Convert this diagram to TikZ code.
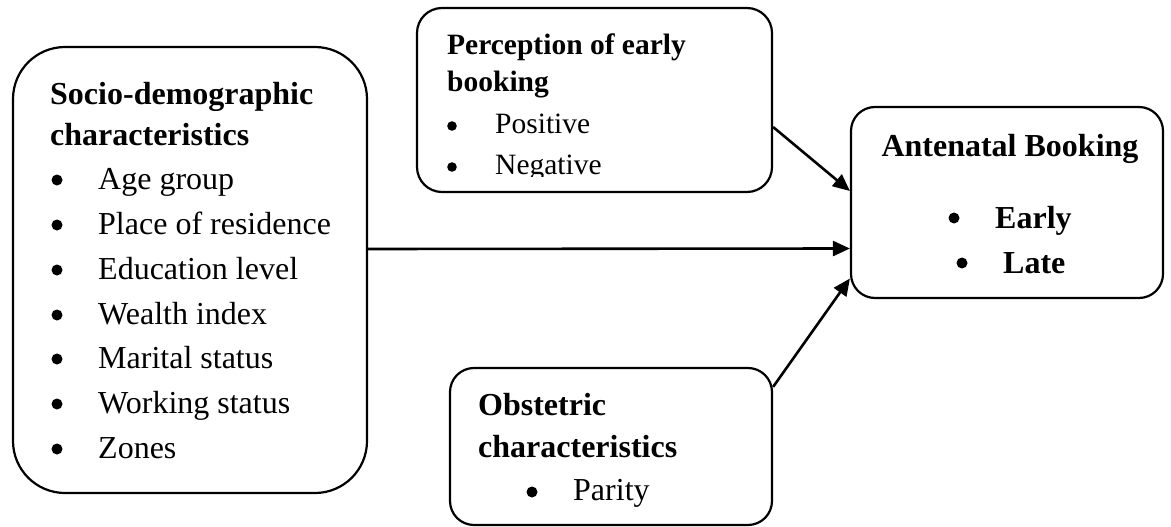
\documentclass[tikz,border=0pt]{standalone}
\usepackage{fontspec}
\setmainfont{Liberation Serif}
\usetikzlibrary{arrows.meta,calc}
\begin{document}
\begin{tikzpicture}[x=1pt,y=-1pt,
  box/.style={draw=black,line width=2.2pt,rounded corners=#1,fill=white,inner sep=0pt},
  big/.style={font=\fontsize{32}{38}\selectfont,inner sep=0pt,anchor=base west},
  mid/.style={font=\fontsize{29.5}{35}\selectfont,inner sep=0pt,anchor=base west},
  conn/.style={line width=2.6pt,-{Triangle[length=17pt,width=15pt]}},
  blt/.style={fill=black}]
\useasboundingbox (0,0) rectangle (1171,527);
% boxes
\node[box=52pt,minimum width=354pt,minimum height=446pt] (L) at (190,270) {};
\node[box=25pt,minimum width=355pt,minimum height=184pt] (P) at (594.5,100) {};
\node[box=24pt,minimum width=322pt,minimum height=157pt] (O) at (611,446.5) {};
\node[box=24pt,minimum width=312pt,minimum height=191pt] (A) at (1007,202.5) {};
% left box text
\node[big,font=\fontsize{32}{38}\selectfont\bfseries] (l1) at (50,104) {Socio-demographic};
\node[big,font=\fontsize{32}{38}\selectfont\bfseries] (l2) at (50,146) {characteristics};
\node[big] (l3) at (98,189) {Age group};
\node[big] (l4) at (98,234) {Place of residence};
\node[big] (l5) at (98,279) {Education level};
\node[big] (l6) at (98,324) {Wealth index};
\node[big] (l7) at (98,368) {Marital status};
\node[big] (l8) at (98,413) {Working status};
\node[big] (l9) at (98,458) {Zones};
\foreach \yy in {189,234,279,324,368,413,458}
  \fill[blt] (57,\yy-9) circle (5.5);
% top box text
\node[mid,font=\fontsize{29.5}{35}\selectfont\bfseries] (p1) at (447,55) {Perception of early};
\node[mid,font=\fontsize{29.5}{35}\selectfont\bfseries] (p2) at (447,92) {booking};
\node[mid] (p3) at (495,133) {Positive};
\begin{scope}
\clip (417,8) rectangle (772,176);
\node[mid] (p4) at (495,174) {Negative};
\end{scope}
\fill[blt] (452,126) circle (4.8);
\fill[blt] (452,167) circle (4.8);
% bottom box text
\node[big,font=\fontsize{32}{38}\selectfont\bfseries] (o1) at (478,415) {Obstetric};
\node[big,font=\fontsize{32}{38}\selectfont\bfseries] (o2) at (478,457) {characteristics};
\node[big] (o3) at (573,500) {Parity};
\fill[blt] (532,492) circle (5.5);
% right box text
\node[big,font=\fontsize{32}{38}\selectfont\bfseries,anchor=base] (a1) at (1010,157) {Antenatal Booking};
\node[big,font=\fontsize{32}{38}\selectfont\bfseries] (a2) at (995,228) {Early};
\node[big,font=\fontsize{32}{38}\selectfont\bfseries] (a3) at (1003,273) {Late};
\fill[blt] (954,218) circle (5.5);
\fill[blt] (962,263) circle (5.5);
% connectors
\draw[conn] ($(P.east)+(0,27)$) -- ($(A.west)+(0,-11.5)$);
\draw[conn] ($(L.east)+(0,-21)$) -- ($(A.west)+(0,46)$);
\draw[conn] ($(O.north east)+(0,20)$) -- ($(A.west)+(0,76)$);
\end{tikzpicture}
\end{document}
